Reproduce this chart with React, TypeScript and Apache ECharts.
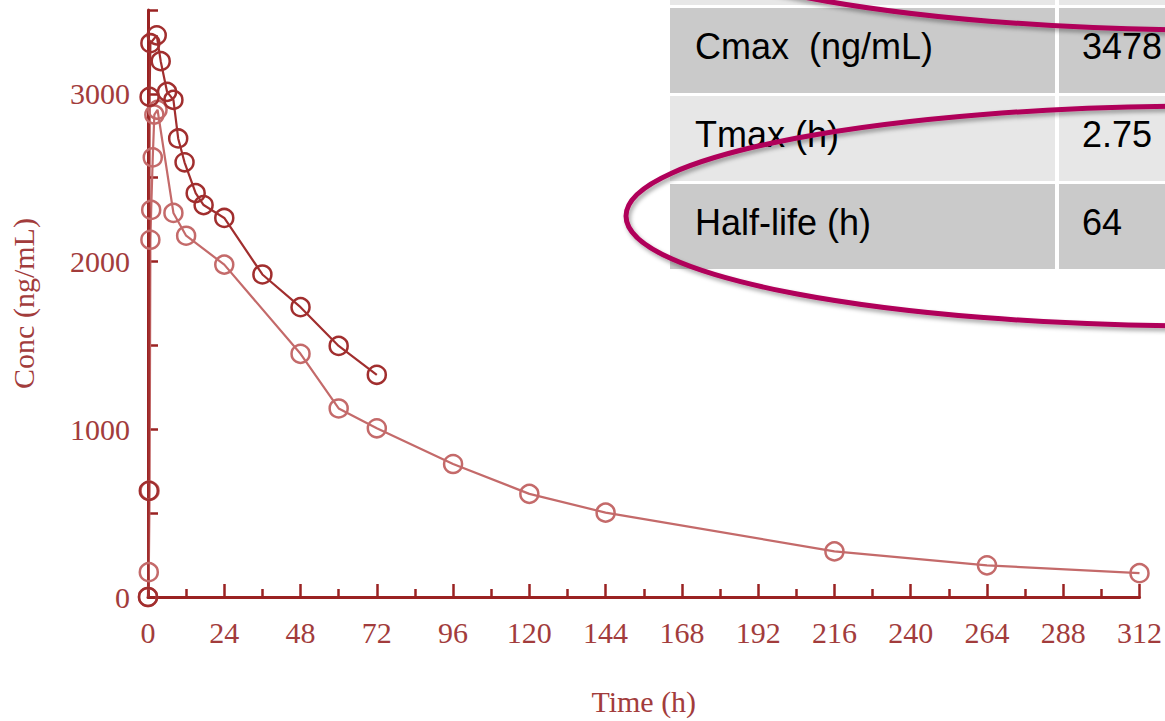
import React, { useEffect, useRef } from "react";
import * as echarts from "echarts";

// Plasma concentration–time profiles (two dosing profiles)
const timeDark = [0, 0.25, 0.5, 0.75, 2.75, 4, 6, 8, 9.5, 11.5, 15, 17.5, 24, 36, 48, 60, 72];
const concDark = [0, 633, 2982, 3302, 3349, 3195, 3012, 2964, 2734, 2592, 2408, 2337, 2260, 1923, 1728, 1497, 1325];

const timeLight = [0, 0.25, 0.5, 0.75, 1, 1.5, 2, 3, 8, 12, 24, 48, 60, 72, 96, 120, 144, 216, 264, 312];
const concLight = [0, 148, 633, 2130, 2308, 2621, 2876, 2905, 2290, 2154, 1982, 1450, 1124, 1006, 793, 615, 503, 272, 189, 142];

// PK parameter table
const paramNames = ["Cmax  (ng/mL)", "Tmax (h)", "Half-life (h)"];
const paramValues = ["3478", "2.75", "64"];

const AXIS_RED = "#9a2222";
const LABEL_RED = "#a23c3c";
const DARK_SERIES = "#a12e2e";
const LIGHT_SERIES = "#c46a6a";
const MAGENTA = "#b0005a";

const pairs = (xs: number[], ys: number[]) => xs.map((x, i) => [x, ys[i]]);

export default function App() {
  const ref = useRef<HTMLDivElement>(null);

  useEffect(() => {
    if (!ref.current) return;
    const chart = echarts.init(ref.current, null, { renderer: "svg" });

    const rowTops = [8, 96, 184];
    const rowH = 85;
    const rowFills = ["#cacaca", "#e7e7e7", "#cacaca"];
    const tableLeft = 670;
    const colSplit = 1055;
    const col2 = 1059;

    const tableEls: any[] = [
      { type: "rect", shape: { x: tableLeft, y: 0, width: colSplit - tableLeft, height: 5 }, style: { fill: "#e7e7e7" }, z: 10 },
      { type: "rect", shape: { x: col2, y: 0, width: 1165 - col2, height: 5 }, style: { fill: "#e7e7e7" }, z: 10 },
    ];
    rowTops.forEach((top, i) => {
      tableEls.push(
        { type: "rect", shape: { x: tableLeft, y: top, width: colSplit - tableLeft, height: rowH }, style: { fill: rowFills[i] }, z: 10 },
        { type: "rect", shape: { x: col2, y: top, width: 1165 - col2, height: rowH }, style: { fill: rowFills[i] }, z: 10 },
        {
          type: "text", x: 695, y: top + 38, z: 11,
          style: { text: paramNames[i], fill: "#000", font: '36px "Liberation Sans", Arial, sans-serif', textVerticalAlign: "middle" },
        },
        {
          type: "text", x: 1082, y: top + 38, z: 11,
          style: { text: paramValues[i], fill: "#000", font: '36px "Liberation Sans", Arial, sans-serif', textVerticalAlign: "middle" },
        }
      );
    });

    const ringStyle = {
      fill: "none",
      stroke: MAGENTA,
      lineWidth: 5,
      shadowBlur: 4,
      shadowColor: "rgba(0,0,0,0.35)",
      shadowOffsetX: 2,
      shadowOffsetY: 3,
    };

    const seriesStyle = (color: string) => ({
      symbol: "circle",
      symbolSize: 18,
      showAllSymbol: true,
      clip: false,
      color,
      lineStyle: { color, width: 2.2 },
      itemStyle: { color: "rgba(255,255,255,0)", borderColor: color, borderWidth: 2.5 },
    });

    chart.setOption({
      animation: false,
      textStyle: { fontFamily: '"Liberation Serif", "Times New Roman", serif' },
      grid: { left: 148, right: 24, top: 10, bottom: 120, containLabel: false },
      xAxis: {
        type: "value",
        min: 0,
        max: 312,
        interval: 24,
        name: "Time (h)",
        nameLocation: "middle",
        nameGap: 89,
        nameTextStyle: { color: LABEL_RED, fontSize: 30 },
        axisLine: { show: true, lineStyle: { color: AXIS_RED, width: 3 } },
        axisTick: { show: true, inside: true, length: 13, lineStyle: { color: AXIS_RED, width: 2.5 } },
        minorTick: { show: true, splitNumber: 2, length: 8, lineStyle: { color: AXIS_RED, width: 2.5 } },
        axisLabel: { color: LABEL_RED, fontSize: 30, margin: 20 },
        splitLine: { show: false },
      },
      yAxis: {
        type: "value",
        min: 0,
        max: 3500,
        interval: 500,
        name: "Conc (ng/mL)",
        nameLocation: "middle",
        nameGap: 110,
        nameTextStyle: { color: LABEL_RED, fontSize: 30 },
        axisLine: { show: true, lineStyle: { color: AXIS_RED, width: 3 } },
        axisTick: { show: true, inside: true, length: 10, lineStyle: { color: AXIS_RED, width: 2.5 } },
        axisLabel: {
          color: LABEL_RED,
          fontSize: 30,
          margin: 18,
          formatter: (v: number) => (v % 1000 === 0 ? String(v) : ""),
        },
        splitLine: { show: false },
      },
      series: [
        { type: "line", data: pairs(timeLight, concLight), ...seriesStyle(LIGHT_SERIES) },
        { type: "line", data: pairs(timeDark, concDark), ...seriesStyle(DARK_SERIES) },
      ],
      graphic: [
        ...tableEls,
        { type: "ellipse", z: 20, shape: { cx: 1215, cy: -82, rx: 580, ry: 112 }, style: ringStyle },
        { type: "ellipse", z: 20, shape: { cx: 1206, cy: 216, rx: 580, ry: 110 }, style: ringStyle },
      ],
    });

    return () => chart.dispose();
  }, []);

  return (
    <div
      ref={ref}
      style={{ position: "fixed", left: 0, top: 0, width: 1165, height: 721, background: "#fff" }}
    />
  );
}
